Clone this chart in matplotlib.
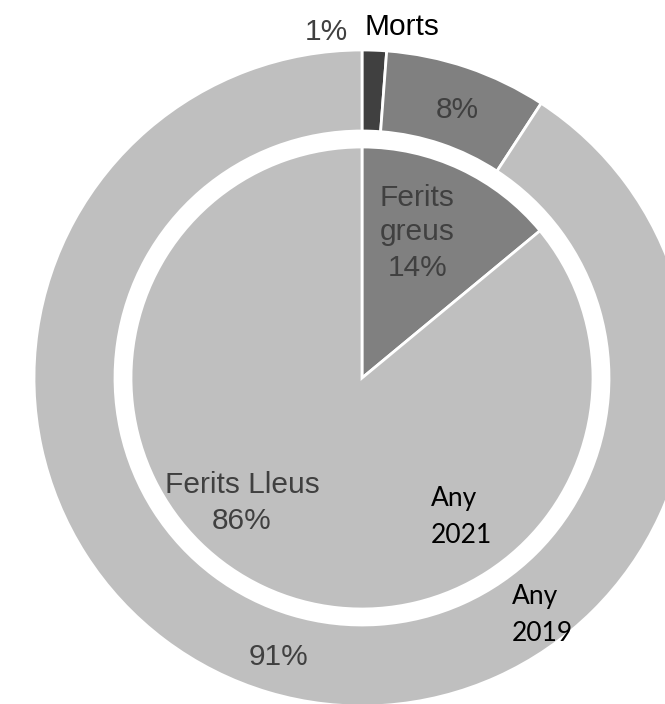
import matplotlib
matplotlib.use("Agg")
import matplotlib.pyplot as plt

categories = ["Morts", "Ferits greus", "Ferits Lleus"]
values_2019 = [1.2, 8.0, 90.8]
values_2021 = [0.0, 14.0, 86.0]
colors = ["#404040", "#808080", "#BFBFBF"]
ring_names = ["Any 2019", "Any 2021"]

W, H = 665, 704
fig = plt.figure(figsize=(W / 100, H / 100), dpi=100)
ax = fig.add_axes([0, 0, 1, 1])

cx, cy = 362, H - 378
R_out, R_ring_in, R_in = 328, 247, 231

def nz(vals):
    idx = [i for i, v in enumerate(vals) if v > 0]
    return [vals[i] for i in idx], [colors[i] for i in idx]

v19, c19 = nz(values_2019)
ax.pie(v19, colors=c19, radius=R_out, center=(cx, cy), startangle=90,
       counterclock=False,
       wedgeprops=dict(width=R_out - R_ring_in, edgecolor="white", linewidth=2))
v21, c21 = nz(values_2021)
ax.pie(v21, colors=c21, radius=R_in, center=(cx, cy), startangle=90,
       counterclock=False,
       wedgeprops=dict(edgecolor="white", linewidth=2))

ax.set_xlim(0, W)
ax.set_ylim(0, H)
ax.set_aspect("equal")
ax.axis("off")

arial = ["Liberation Sans", "DejaVu Sans"]
calibri = ["Lato", "DejaVu Sans"]
fs = 21.5
fs2 = 19
gray = "#404040"

def T(x, y, s, ha="center", color=gray, size=fs, family=arial):
    # y is the baseline in pixel rows from the top
    ax.text(x, H - y, s, ha=ha, va="baseline", color=color, fontsize=size, family=family)

pct = lambda v: f"{round(v)}%"

# 2019 ring labels
T(326, 40, pct(values_2019[0]))
T(402, 35, categories[0], color="black")
T(457, 118, pct(values_2019[1]))
T(278, 665, pct(values_2019[2]))

# 2021 pie labels
w1, w2 = categories[1].split()
T(417, 206, w1)
T(417, 240, w2)
T(418, 276, pct(values_2021[1]))
T(242, 493, categories[2])
T(242, 529, pct(values_2021[2]))

# series names
a21, y21 = ring_names[1].split()
a19, y19 = ring_names[0].split()
T(431, 506, a21, ha="left", color="black", size=fs2, family=calibri)
T(431, 543, y21, ha="left", color="black", size=fs2, family=calibri)
T(512, 604, a19, ha="left", color="black", size=fs2, family=calibri)
T(512, 641, y19, ha="left", color="black", size=fs2, family=calibri)

fig.savefig("out.png", dpi=100, facecolor="white")
